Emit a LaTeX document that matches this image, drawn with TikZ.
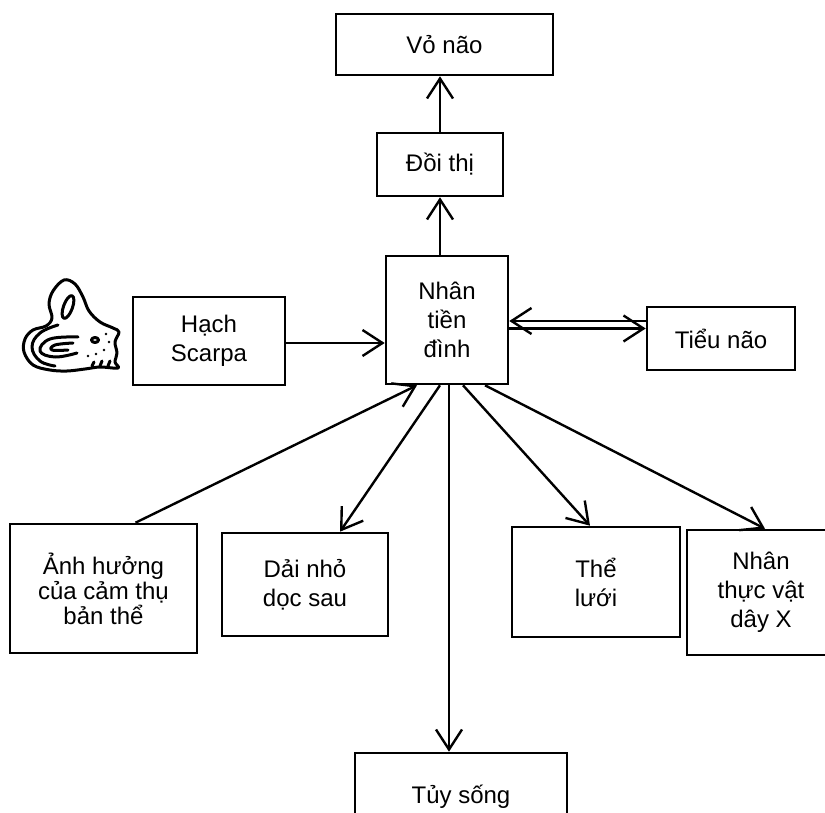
\documentclass[tikz,border=0pt]{standalone}
\usepackage{fontspec}
\setmainfont{Liberation Sans}
\usetikzlibrary{arrows.meta}

\begin{document}
\begin{tikzpicture}[x=1pt, y=-1pt, >={Straight Barb[length=20pt,width=26pt]}]
        \tikzstyle{box}=[rectangle, draw=black, line width=2.6pt, fill=white, inner sep=0pt, align=center, font=\fontsize{24}{29}\selectfont]
        \tikzstyle{link}=[line width=2.4pt, ->]
        \tikzstyle{ear}=[line width=3pt, line join=round, line cap=round]
        \useasboundingbox (0,0) rectangle (825,813);
        \clip (0,0) rectangle (825,813);
        \begin{scope}
          \node [box, minimum width=217pt, minimum height=61pt] (vo) at (444.5,44.5) {Vỏ não};
          \node [box, minimum width=126pt, minimum height=63pt] (doi) at (440,164.5) {Đồi thị};
          \node [box, minimum width=122pt, minimum height=128pt] (nhan) at (447,320) {Nhân\\tiền\\đình};
          \node [box, minimum width=152pt, minimum height=88pt] (hach) at (209,341) {Hạch\\Scarpa};
          \node [box, minimum width=148pt, minimum height=63pt] (tieu) at (721,338.5) {Tiểu não};
          \node [box, minimum width=187pt, minimum height=129pt, font=\fontsize{24}{25}\selectfont] (anh) at (103.5,588.5) {Ảnh hưởng\\của cảm thụ\\bản thể};
          \node [box, minimum width=166pt, minimum height=103pt] (dai) at (305,584.5) {Dải nhỏ\\dọc sau};
          \node [box, minimum width=168pt, minimum height=110pt] (the) at (596,582) {Thể\\lưới};
          \node [box, minimum width=148pt, minimum height=125pt] (ntv) at (761,592.5) {Nhân\\thực vật\\dây X};
          \node [box, minimum width=212pt, minimum height=87pt] (tuy) at (461,796.5) {Tủy sống};
        \end{scope}
        \draw [link] (doi.north) -- (doi.north |- vo.south);
        \draw [link] (doi.south |- nhan.north) -- (doi.south);
        \draw [link] ([yshift=-2pt]hach.east) -- ([yshift=-2pt]hach.east -| nhan.west);
        \draw [link] ([yshift=17.5pt]tieu.west) -- ([yshift=17.5pt]tieu.west -| nhan.east);
        \draw [link] ([yshift=-8.5pt]nhan.east) -- ([yshift=-8.5pt]nhan.east -| tieu.west);
        \draw [link] ([xshift=32pt]anh.north) -- ([xshift=-30pt]nhan.south);
        \draw [link] ([xshift=-7pt]nhan.south) -- ([xshift=35pt]dai.north);
        \draw [link] ([xshift=2pt]nhan.south) -- ([xshift=2pt]nhan.south |- tuy.north);
        \draw [link] ([xshift=16pt]nhan.south) -- ([xshift=-6pt]the.north);
        \draw [link] ([xshift=38pt]nhan.south) -- ([xshift=4pt]ntv.north);
        % vestibular organ
        \begin{scope}[ear]
          \draw plot [smooth cycle, tension=0.6] coordinates {(53,291) (64,280) (75,284) (83,297) (89,311) (100,322) (113,328) (119,332) (115,342) (117,353) (115,362) (118,368) (100,367) (85,369) (67,371) (50,370) (33,365) (24,352) (25,339) (33,330) (46,326) (52,318) (49,304)};
          \draw [rotate around={-20:(68,307)}] (68,307) ellipse (4.5pt and 12pt);
          \draw plot [smooth, tension=0.7] coordinates {(58,325) (40,333) (32,347) (40,361) (55,366)};
          \draw plot [smooth, tension=0.7] coordinates {(78,337) (50,339) (40,351) (55,357) (77,353)};
          \draw plot [smooth, tension=0.7] coordinates {(73,343) (55,345) (52,350) (68,350)};
          \draw (95,340) ellipse (3.5pt and 2.5pt);
          \fill (106,334) circle (1.4pt) (109,342) circle (1.4pt) (104,350) circle (1.4pt) (96,354) circle (1.4pt) (88,356) circle (1.4pt);
          \draw (92,366) -- (94,362) (100,366) -- (102,361) (108,366) -- (110,361);
        \end{scope}
      \end{tikzpicture}
\end{document}
